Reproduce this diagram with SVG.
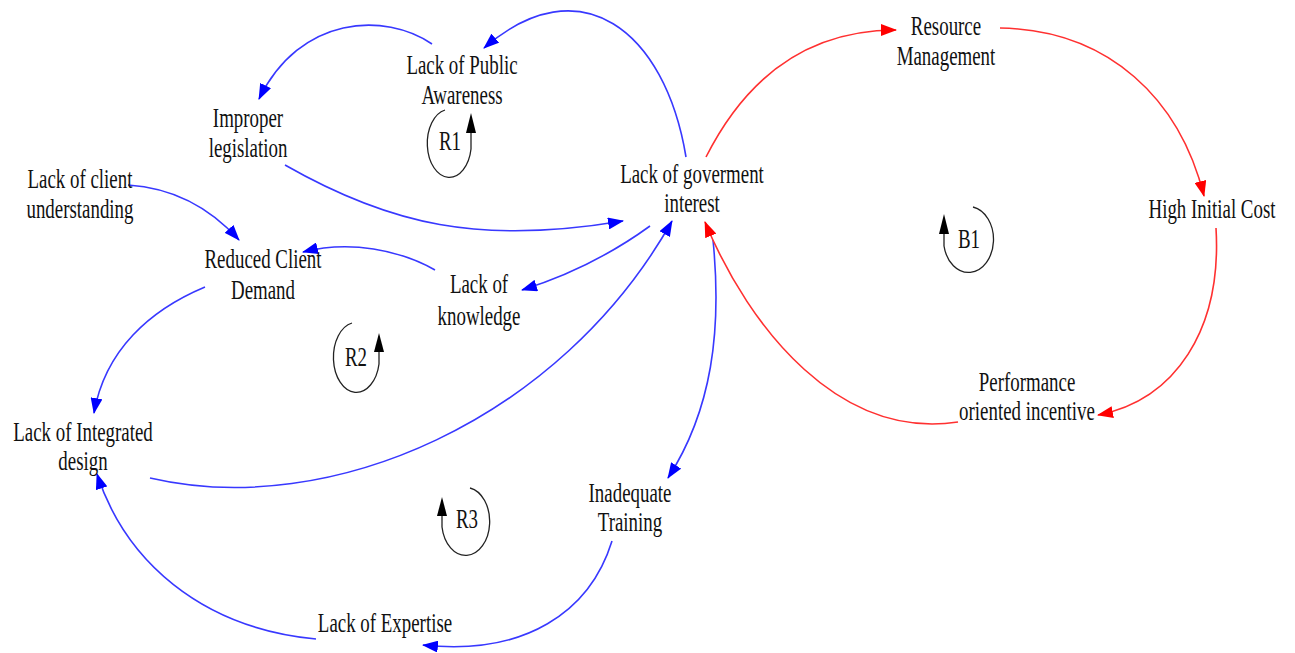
<svg xmlns="http://www.w3.org/2000/svg" width="1295" height="653" viewBox="0 0 1295 653">
  <style>
    .lbl { font-family: "Liberation Serif", "Times New Roman", serif; font-size: 27px; fill: #111; text-anchor: middle; }
    .b { fill: none; stroke: #3838ff; stroke-width: 1.6; marker-end: url(#ab); }
    .r { fill: none; stroke: #ff3030; stroke-width: 1.6; marker-end: url(#ar); }
    .loop { fill: none; stroke: #222; stroke-width: 1.3; }
    .lh { fill: #000; }
  </style>
  <defs>
    <marker id="ab" viewBox="0 0 16 12" refX="15" refY="6" markerWidth="16" markerHeight="12" markerUnits="userSpaceOnUse" orient="auto">
      <path d="M0,0 L16,6 L0,12 z" fill="#0000ff"/>
    </marker>
    <marker id="ar" viewBox="0 0 16 12" refX="15" refY="6" markerWidth="16" markerHeight="12" markerUnits="userSpaceOnUse" orient="auto">
      <path d="M0,0 L16,6 L0,12 z" fill="#ff0000"/>
    </marker>
  </defs>
  <rect width="1295" height="653" fill="#fff"/>

  <g id="connectors">
    <path class="b" d="M686,157 C665,30 580,-35 484,48"/>
    <path class="b" d="M432,44 C385,12 300,15 259,99"/>
    <path class="b" d="M285,165 C390,225 480,245 623,221"/>
    <path class="b" d="M128,185 C175,188 212,210 239,240"/>
    <path class="b" d="M435,270 C400,250 350,240 303,252"/>
    <path class="b" d="M650,226 C610,255 570,275 522,290"/>
    <path class="b" d="M205,287 C150,310 105,350 94,413"/>
    <path class="b" d="M150,478 C330,520 560,420 672,221"/>
    <path class="b" d="M713,240 C722,330 712,410 668,478"/>
    <path class="b" d="M612,541 C590,612 525,656 423,645"/>
    <path class="b" d="M316,639 C200,628 125,560 97,474"/>
    <path class="r" d="M706,157 C750,70 815,30 896,30"/>
    <path class="r" d="M1000,28 C1110,30 1180,100 1204,196"/>
    <path class="r" d="M1216,228 C1222,330 1175,400 1098,415"/>
    <path class="r" d="M958,422 C840,440 750,330 705,222"/>
  </g>

  <g id="lack-public-awareness">
    <text class="lbl" transform="translate(462,74) scale(0.7,1)"><tspan x="0" y="0">Lack of Public</tspan><tspan x="0" y="30">Awareness</tspan></text>
  </g>
  <g id="improper-legislation">
    <text class="lbl" transform="translate(248,127) scale(0.7,1)"><tspan x="0" y="0">Improper</tspan><tspan x="0" y="30">legislation</tspan></text>
  </g>
  <g id="lack-client-understanding">
    <text class="lbl" transform="translate(80,188) scale(0.7,1)"><tspan x="0" y="0">Lack of client</tspan><tspan x="0" y="30">understanding</tspan></text>
  </g>
  <g id="reduced-client-demand">
    <text class="lbl" transform="translate(263,268) scale(0.7,1)"><tspan x="0" y="0">Reduced Client</tspan><tspan x="0" y="31">Demand</tspan></text>
  </g>
  <g id="lack-knowledge">
    <text class="lbl" transform="translate(479,293) scale(0.7,1)"><tspan x="0" y="0">Lack of</tspan><tspan x="0" y="32">knowledge</tspan></text>
  </g>
  <g id="lack-gov-interest">
    <text class="lbl" transform="translate(692,183) scale(0.7,1)"><tspan x="0" y="0">Lack of goverment</tspan><tspan x="0" y="29">interest</tspan></text>
  </g>
  <g id="resource-management">
    <text class="lbl" transform="translate(946,35) scale(0.7,1)"><tspan x="0" y="0">Resource</tspan><tspan x="0" y="30">Management</tspan></text>
  </g>
  <g id="high-initial-cost">
    <text class="lbl" transform="translate(1212,218) scale(0.7,1)">High Initial Cost</text>
  </g>
  <g id="performance-incentive">
    <text class="lbl" transform="translate(1027,391) scale(0.7,1)"><tspan x="0" y="0">Performance</tspan><tspan x="0" y="29">oriented incentive</tspan></text>
  </g>
  <g id="lack-integrated-design">
    <text class="lbl" transform="translate(83,441) scale(0.7,1)"><tspan x="0" y="0">Lack of Integrated</tspan><tspan x="0" y="29">design</tspan></text>
  </g>
  <g id="inadequate-training">
    <text class="lbl" transform="translate(630,502) scale(0.7,1)"><tspan x="0" y="0">Inadequate</tspan><tspan x="0" y="29">Training</tspan></text>
  </g>
  <g id="lack-expertise">
    <text class="lbl" transform="translate(385,632) scale(0.7,1)">Lack of Expertise</text>
  </g>

  <g id="loop-R1">
    <path class="loop" d="M445,110 A22,34 0 1 0 471,149 L471,130"/>
    <path class="lh" d="M471,113 L476,133 L466,133 z"/>
    <text class="lbl" transform="translate(450,150) scale(0.7,1)">R1</text>
  </g>
  <g id="loop-R2">
    <path class="loop" d="M352,323 A23,35 0 1 0 379,364 L379,348"/>
    <path class="lh" d="M379,333 L384,352 L374,352 z"/>
    <text class="lbl" transform="translate(356,366) scale(0.7,1)">R2</text>
  </g>
  <g id="loop-R3">
    <path class="loop" d="M470,488 A24,34 0 1 1 442,527 L442,512"/>
    <path class="lh" d="M442,497 L447,516 L437,516 z"/>
    <text class="lbl" transform="translate(467,528) scale(0.7,1)">R3</text>
  </g>
  <g id="loop-B1">
    <path class="loop" d="M973,207 A25,33 0 1 1 944,246 L944,230"/>
    <path class="lh" d="M944,214 L949,234 L939,234 z"/>
    <text class="lbl" transform="translate(969,248) scale(0.7,1)">B1</text>
  </g>
</svg>
